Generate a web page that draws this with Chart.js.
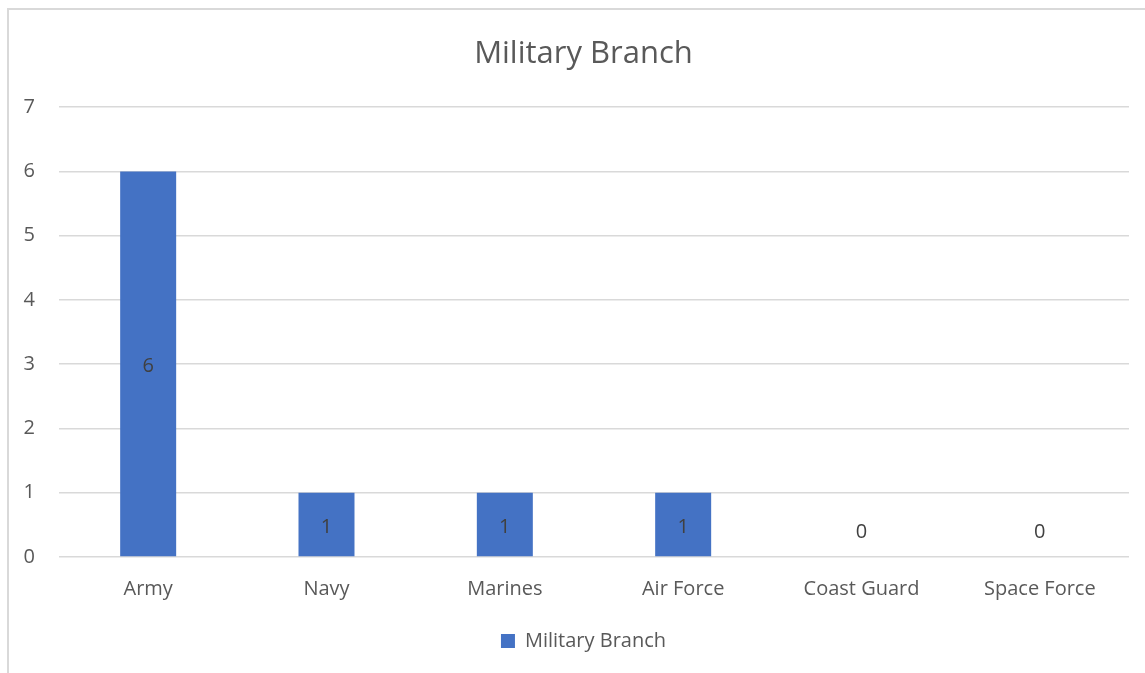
<!DOCTYPE html>
<html>
<head>
<meta charset="utf-8">
<script src="https://cdn.jsdelivr.net/npm/chart.js@4"></script>
<style>
  html, body { margin: 0; padding: 0; background: #fff; overflow: hidden; }
  #frame {
    position: absolute; left: 7px; top: 8px; width: 1200px; height: 700px;
    border-left: 2px solid #d9d9d9; border-top: 2px solid #d9d9d9;
  }
  #chart { position: absolute; left: 0; top: 0; }
</style>
</head>
<body>
<div id="frame"></div>
<canvas id="chart" width="1167" height="673"></canvas>
<script>
const branches = ["Army", "Navy", "Marines", "Air Force", "Coast Guard", "Space Force"];
const counts = [6, 1, 1, 1, 0, 0];
const seriesName = "Military Branch";

const textColor = "#595959";
const fontFamily = "'Open Sans', sans-serif";

// value labels in the middle of each bar, zero values sit just above the axis
const barLabels = {
    id: "barLabels",
    afterDatasetsDraw(chart) {
        const ctx = chart.ctx;
        const y = chart.scales.y;
        const meta = chart.getDatasetMeta(0);
        ctx.save();
        ctx.font = "20px " + fontFamily;
        ctx.fillStyle = "#404040";
        ctx.textAlign = "center";
        ctx.textBaseline = "middle";
        meta.data.forEach((bar, i) => {
            const v = counts[i];
            const top = y.getPixelForValue(v);
            const base = y.getPixelForValue(0);
            const ly = v === 0 ? base - 25 : (top + base) / 2 + 2;
            ctx.fillText(String(v), bar.x, ly);
        });
        ctx.restore();
    }
};

new Chart(document.getElementById("chart"), {
    type: "bar",
    data: {
        labels: branches,
        datasets: [{
            label: seriesName,
            data: counts,
            backgroundColor: "#4472C4",
            categoryPercentage: 1,
            barPercentage: 0.314
        }]
    },
    options: {
        responsive: false,
        animation: false,
        devicePixelRatio: 1,
        layout: { padding: { left: 0, right: 0, top: 0, bottom: 12 } },
        plugins: {
            title: {
                display: true,
                text: seriesName,
                color: textColor,
                font: { family: fontFamily, size: 31, weight: "normal" },
                padding: { top: 36, bottom: 34 }
            },
            legend: {
                position: "bottom",
                labels: {
                    color: textColor,
                    font: { family: fontFamily, size: 20 },
                    boxWidth: 14,
                    boxHeight: 14,
                    padding: 10
                }
            },
            tooltip: { enabled: false }
        },
        scales: {
            x: {
                grid: { display: false, drawTicks: false },
                border: { display: false },
                ticks: {
                    color: textColor,
                    font: { family: fontFamily, size: 20 },
                    padding: 20,
                    maxRotation: 0
                },
                afterFit(scale) { scale.height = 64; }
            },
            y: {
                min: 0,
                max: 7,
                grid: { color: "#d9d9d9", lineWidth: 1.5, drawTicks: false },
                border: { display: false },
                ticks: {
                    stepSize: 1,
                    color: textColor,
                    font: { family: fontFamily, size: 20 },
                    padding: 24
                },
                afterFit(scale) { scale.width = 59; }
            },
            // empty right-hand gutter, keeps the plot clear of the right edge
            gutter: {
                position: "right",
                grid: { display: false, drawTicks: false },
                border: { display: false },
                ticks: { display: false },
                afterFit(scale) { scale.width = 38; }
            }
        }
    },
    plugins: [barLabels]
});
</script>
</body>
</html>
